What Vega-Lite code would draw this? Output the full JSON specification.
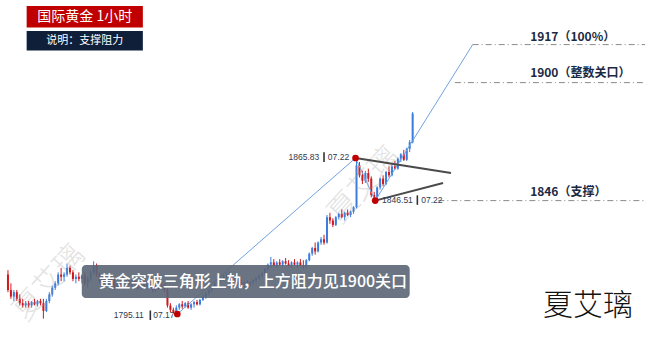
{
"$schema": "https://vega.github.io/schema/vega-lite/v6.json",
"width": 650, "height": 339,
"autosize": {"type": "fit", "contains": "padding"},
"padding": 0,
"background": "white",
"config": {"view": {"stroke": null}},
"datasets": {
"candles": [
{"t":1,"o":1813,"h":1815,"l":1805,"c":1806},
{"t":2,"o":1806,"h":1809,"l":1802,"c":1803},
{"t":3,"o":1803,"h":1806,"l":1801,"c":1805},
{"t":4,"o":1805,"h":1806,"l":1801,"c":1802},
{"t":5,"o":1802,"h":1804,"l":1799,"c":1800},
{"t":6,"o":1800,"h":1802,"l":1798,"c":1799},
{"t":7,"o":1799,"h":1801,"l":1798,"c":1800},
{"t":8,"o":1800,"h":1801,"l":1798,"c":1799},
{"t":9,"o":1799,"h":1801,"l":1798,"c":1800.5},
{"t":10,"o":1800.5,"h":1802,"l":1799,"c":1799.5},
{"t":11,"o":1799.5,"h":1801.5,"l":1798.5,"c":1801},
{"t":12,"o":1801,"h":1802,"l":1799,"c":1800},
{"t":13,"o":1800,"h":1802,"l":1793,"c":1796.5},
{"t":14,"o":1796.5,"h":1802,"l":1796,"c":1801},
{"t":15,"o":1801,"h":1805,"l":1800,"c":1804},
{"t":16,"o":1804,"h":1808,"l":1803,"c":1807},
{"t":17,"o":1807,"h":1810,"l":1806,"c":1809},
{"t":18,"o":1809,"h":1814,"l":1808,"c":1813},
{"t":19,"o":1813,"h":1816,"l":1810,"c":1812},
{"t":20,"o":1812,"h":1814,"l":1810,"c":1813},
{"t":21,"o":1813,"h":1818,"l":1812,"c":1816},
{"t":22,"o":1816,"h":1817,"l":1813,"c":1814},
{"t":23,"o":1814,"h":1815,"l":1810,"c":1811},
{"t":24,"o":1811,"h":1813,"l":1809,"c":1812},
{"t":25,"o":1812,"h":1814,"l":1810,"c":1811},
{"t":26,"o":1811,"h":1813,"l":1809,"c":1812.5},
{"t":27,"o":1812.5,"h":1814,"l":1808,"c":1809},
{"t":28,"o":1809,"h":1812,"l":1807,"c":1811},
{"t":29,"o":1811,"h":1815,"l":1810,"c":1814},
{"t":30,"o":1814,"h":1819,"l":1813,"c":1817},
{"t":31,"o":1817,"h":1818,"l":1812,"c":1813},
{"t":32,"o":1813,"h":1814,"l":1809,"c":1810},
{"t":33,"o":1810,"h":1812,"l":1808,"c":1811},
{"t":34,"o":1811,"h":1813,"l":1809,"c":1810},
{"t":35,"o":1810,"h":1812,"l":1808,"c":1811.5},
{"t":36,"o":1811.5,"h":1813,"l":1809,"c":1810},
{"t":37,"o":1810,"h":1811,"l":1806,"c":1807},
{"t":38,"o":1807,"h":1810,"l":1806,"c":1809},
{"t":39,"o":1809,"h":1811,"l":1807,"c":1808},
{"t":40,"o":1808,"h":1810,"l":1806,"c":1809.5},
{"t":41,"o":1809.5,"h":1812,"l":1808,"c":1811},
{"t":42,"o":1811,"h":1812,"l":1808,"c":1809},
{"t":43,"o":1809,"h":1811,"l":1807,"c":1810},
{"t":44,"o":1810,"h":1812,"l":1808,"c":1809},
{"t":45,"o":1809,"h":1810,"l":1806,"c":1807},
{"t":46,"o":1807,"h":1810,"l":1806,"c":1809},
{"t":47,"o":1809,"h":1811,"l":1807,"c":1808},
{"t":48,"o":1808,"h":1810,"l":1806,"c":1809.5},
{"t":49,"o":1809.5,"h":1811,"l":1807,"c":1808},
{"t":50,"o":1808,"h":1809,"l":1805,"c":1806},
{"t":51,"o":1806,"h":1809,"l":1805,"c":1808},
{"t":52,"o":1808,"h":1810,"l":1806,"c":1807},
{"t":53,"o":1807,"h":1809,"l":1806,"c":1808},
{"t":54,"o":1808,"h":1809,"l":1805,"c":1806},
{"t":55,"o":1806,"h":1807,"l":1798,"c":1799},
{"t":56,"o":1799,"h":1800,"l":1796,"c":1797},
{"t":57,"o":1797,"h":1798,"l":1795.5,"c":1796},
{"t":58,"o":1796,"h":1799,"l":1795.11,"c":1798},
{"t":59,"o":1798,"h":1800,"l":1797,"c":1799.5},
{"t":60,"o":1799.5,"h":1801,"l":1797.5,"c":1798.5},
{"t":61,"o":1798.5,"h":1800.5,"l":1798,"c":1800},
{"t":62,"o":1800,"h":1801,"l":1797.5,"c":1798},
{"t":63,"o":1798,"h":1800,"l":1797,"c":1799.5},
{"t":64,"o":1799.5,"h":1801,"l":1798,"c":1800.5},
{"t":65,"o":1800.5,"h":1801.5,"l":1799,"c":1799.5},
{"t":66,"o":1799.5,"h":1802,"l":1799,"c":1801.5},
{"t":67,"o":1801.5,"h":1804,"l":1801,"c":1803},
{"t":68,"o":1803,"h":1805,"l":1802,"c":1804.5},
{"t":69,"o":1804.5,"h":1806.5,"l":1803.5,"c":1806},
{"t":70,"o":1806,"h":1808,"l":1805,"c":1807.5},
{"t":71,"o":1807.5,"h":1809.5,"l":1806.5,"c":1809},
{"t":72,"o":1809,"h":1811,"l":1808,"c":1810.5},
{"t":73,"o":1810.5,"h":1812,"l":1809,"c":1811},
{"t":74,"o":1811,"h":1813,"l":1810,"c":1812.5},
{"t":75,"o":1812.5,"h":1814,"l":1811,"c":1813},
{"t":76,"o":1813,"h":1814.5,"l":1811,"c":1811.5},
{"t":77,"o":1811.5,"h":1813,"l":1810,"c":1812.5},
{"t":78,"o":1812.5,"h":1813.5,"l":1809,"c":1810},
{"t":79,"o":1810,"h":1811,"l":1808,"c":1809},
{"t":80,"o":1809,"h":1810.5,"l":1807.5,"c":1808.5},
{"t":81,"o":1808.5,"h":1810,"l":1807,"c":1809.5},
{"t":82,"o":1809.5,"h":1810.5,"l":1808,"c":1808.5},
{"t":83,"o":1808.5,"h":1810,"l":1807.5,"c":1809.5},
{"t":84,"o":1809.5,"h":1811,"l":1808.5,"c":1810.5},
{"t":85,"o":1810.5,"h":1812,"l":1809.5,"c":1811.5},
{"t":86,"o":1811.5,"h":1813,"l":1810.5,"c":1812.5},
{"t":87,"o":1812.5,"h":1814,"l":1811.5,"c":1813.5},
{"t":88,"o":1813.5,"h":1816,"l":1812.5,"c":1815.5},
{"t":89,"o":1815.5,"h":1818,"l":1814.5,"c":1817.5},
{"t":90,"o":1817.5,"h":1821,"l":1816,"c":1818.5},
{"t":91,"o":1818.5,"h":1820,"l":1816.5,"c":1817},
{"t":92,"o":1817,"h":1819,"l":1816,"c":1818.5},
{"t":93,"o":1818.5,"h":1820,"l":1817,"c":1817.5},
{"t":94,"o":1817.5,"h":1819.5,"l":1816.5,"c":1819},
{"t":95,"o":1819,"h":1820.5,"l":1817.5,"c":1818},
{"t":96,"o":1818,"h":1819.5,"l":1816.5,"c":1817},
{"t":97,"o":1817,"h":1819,"l":1816,"c":1818.5},
{"t":98,"o":1818.5,"h":1820,"l":1817,"c":1817.5},
{"t":99,"o":1817.5,"h":1819,"l":1816,"c":1818.5},
{"t":100,"o":1818.5,"h":1820,"l":1816.5,"c":1817},
{"t":101,"o":1817,"h":1819.5,"l":1815.5,"c":1816.5},
{"t":102,"o":1816.5,"h":1820,"l":1816,"c":1819.5},
{"t":103,"o":1819.5,"h":1823,"l":1819,"c":1822.5},
{"t":104,"o":1822.5,"h":1825.5,"l":1821.5,"c":1825},
{"t":105,"o":1825,"h":1827.5,"l":1822,"c":1823.5},
{"t":106,"o":1823.5,"h":1828,"l":1823,"c":1827.5},
{"t":107,"o":1827.5,"h":1830,"l":1826.5,"c":1829},
{"t":108,"o":1829,"h":1831,"l":1826.5,"c":1827.5},
{"t":109,"o":1827.5,"h":1840,"l":1827,"c":1839},
{"t":110,"o":1839,"h":1841,"l":1836,"c":1837.5},
{"t":111,"o":1837.5,"h":1838.5,"l":1834.5,"c":1835.5},
{"t":112,"o":1835.5,"h":1839.5,"l":1835,"c":1839},
{"t":113,"o":1839,"h":1841,"l":1838,"c":1840.5},
{"t":114,"o":1840.5,"h":1842.5,"l":1838.5,"c":1839},
{"t":115,"o":1839,"h":1841.5,"l":1837.5,"c":1841},
{"t":116,"o":1841,"h":1842.5,"l":1839.5,"c":1840},
{"t":117,"o":1840,"h":1842,"l":1839,"c":1841.5},
{"t":118,"o":1841.5,"h":1844,"l":1840.5,"c":1843.5},
{"t":119,"o":1843.5,"h":1865.83,"l":1843,"c":1862.5},
{"t":120,"o":1862.5,"h":1864,"l":1857,"c":1858},
{"t":121,"o":1858,"h":1860,"l":1854,"c":1855.5},
{"t":122,"o":1855.5,"h":1860,"l":1854.5,"c":1859},
{"t":123,"o":1859,"h":1861,"l":1855,"c":1856.5},
{"t":124,"o":1856.5,"h":1857.5,"l":1848,"c":1849},
{"t":125,"o":1849,"h":1850.5,"l":1846.51,"c":1848},
{"t":126,"o":1848,"h":1853,"l":1847.5,"c":1852.5},
{"t":127,"o":1852.5,"h":1857,"l":1851.5,"c":1856.5},
{"t":128,"o":1856.5,"h":1858,"l":1853,"c":1854},
{"t":129,"o":1854,"h":1860,"l":1853.5,"c":1859.5},
{"t":130,"o":1859.5,"h":1862,"l":1857,"c":1858},
{"t":131,"o":1858,"h":1863,"l":1857.5,"c":1862},
{"t":132,"o":1862,"h":1864.5,"l":1860.5,"c":1861},
{"t":133,"o":1861,"h":1866,"l":1860.5,"c":1865.5},
{"t":134,"o":1865.5,"h":1868,"l":1864,"c":1867.5},
{"t":135,"o":1867.5,"h":1869.5,"l":1864.5,"c":1865},
{"t":136,"o":1865,"h":1870.5,"l":1864.5,"c":1870},
{"t":137,"o":1870,"h":1874,"l":1868.5,"c":1873},
{"t":138,"o":1873,"h":1886.7,"l":1872.5,"c":1886}
],
"fib": [
{"t":58.33,"p":1795.11,"k":1},
{"t":118.67,"p":1865.83,"k":2},
{"t":125.33,"p":1846.51,"k":3},
{"t":158.33,"p":1917.23,"k":4}
],
"levels": [
{"t":158.33,"t2":216.67,"p":1917.23},
{"t":152.3,"t2":216.67,"p":1900},
{"t":146.7,"t2":216.67,"p":1846.51}
],
"tri": [
{"s":"upper","t":118.67,"p":1865.83},
{"s":"upper","t":151,"p":1859.03},
{"s":"lower","t":125.33,"p":1846.51},
{"s":"lower","t":148.3,"p":1854.49}
],
"dots": [
{"t":58.33,"p":1795.11},
{"t":118.67,"p":1865.83},
{"t":125.33,"p":1846.51}
],
"boxes": [
{"name":"title","t":7.33,"t2":46.67,"p":1934.73,"p2":1925.0,"fill":"#c00000"},
{"name":"note","t":7.33,"t2":46.67,"p":1923.4,"p2":1914.56,"fill":"#0f1f3a"}
],
"boxtext": [
{"text":"国际黄金 1小时","t":27,"p":1929.9,"size":14},
{"text":"说明：支撑阻力","t":27,"p":1919.0,"size":11}
],
"banner": [
{"t":26,"t2":137,"p":1817.32,"p2":1802.36}
],
"bannertext": [
{"text":"黄金突破三角形上轨，上方阻力见1900关口","t":31.7,"p":1809.6}
],
"pricelabels": [
{"text":"1865.83","t":96.0,"p":1866.15},
{"text":"07.22","t":109.3,"p":1866.15},
{"text":"1846.51","t":127.67,"p":1846.79},
{"text":"07.22","t":140.9,"p":1846.79},
{"text":"1795.11","t":36.8,"p":1794.52},
{"text":"07.17","t":50.2,"p":1794.52}
],
"bars": [
{"t":108.0,"p":1868.4,"p2":1864.0},
{"t":139.6,"p":1848.9,"p2":1844.6},
{"t":49.2,"p":1796.7,"p2":1792.4}
],
"levellabels": [
{"text":"1917（100%）","t":177.78,"p":1920.55},
{"text":"1900（整数关口）","t":177.78,"p":1904.48},
{"text":"1846（支撑）","t":177.78,"p":1850.28}
],
"watermarks": [
{"text":"夏艾璃","t":15,"p":1809.2},
{"text":"夏艾璃","t":121.67,"p":1853.6}
],
"signature": [
{"text":"夏艾璃","t":197.33,"p":1798.6}
]
},
"layer": [
{
"data": {"name":"candles"},
"mark": {"type":"rule","strokeWidth":1},
"encoding": {
"x": {"field":"t","type":"quantitative","scale":{"domain":[0,216.667],"nice":false,"zero":false},"axis":null},
"y": {"field":"l","type":"quantitative","scale":{"domain":[1783.78,1937.45],"nice":false,"zero":false},"axis":null},
"y2": {"field":"h"},
"color": {"condition":{"test":"datum.c >= datum.o","value":"#3b7ddd"},"value":"#d0191e"}
}
},
{
"data": {"name":"candles"},
"mark": {"type":"bar","size":2},
"encoding": {
"x": {"field":"t","type":"quantitative","scale":{"domain":[0,216.667],"nice":false,"zero":false},"axis":null},
"y": {"field":"o","type":"quantitative","scale":{"domain":[1783.78,1937.45],"nice":false,"zero":false},"axis":null},
"y2": {"field":"c"},
"color": {"condition":{"test":"datum.c >= datum.o","value":"#3b7ddd"},"value":"#d0191e"}
}
},
{
"data": {"name":"watermarks"},
"mark": {"type":"text","angle":312,"fontSize":30,"font":"Noto Sans CJK SC","fontWeight":300,"color":"#9a9a9a","opacity":0.28,"align":"center","baseline":"middle"},
"encoding": {
"x": {"field":"t","type":"quantitative","scale":{"domain":[0,216.667],"nice":false,"zero":false},"axis":null},
"y": {"field":"p","type":"quantitative","scale":{"domain":[1783.78,1937.45],"nice":false,"zero":false},"axis":null},
"text": {"field":"text"}
}
},
{
"data": {"name":"fib"},
"mark": {"type":"line","strokeWidth":1,"color":"#6fa3e0"},
"encoding": {
"x": {"field":"t","type":"quantitative","scale":{"domain":[0,216.667],"nice":false,"zero":false},"axis":null},
"y": {"field":"p","type":"quantitative","scale":{"domain":[1783.78,1937.45],"nice":false,"zero":false},"axis":null},
"order": {"field":"k"}
}
},
{
"data": {"name":"levels"},
"mark": {"type":"rule","strokeWidth":1,"color":"#8a8a8a","strokeDash":[6,3,1,3]},
"encoding": {
"x": {"field":"t","type":"quantitative","scale":{"domain":[0,216.667],"nice":false,"zero":false},"axis":null},
"x2": {"field":"t2"},
"y": {"field":"p","type":"quantitative","scale":{"domain":[1783.78,1937.45],"nice":false,"zero":false},"axis":null}
}
},
{
"data": {"name":"tri"},
"mark": {"type":"line","strokeWidth":2,"color":"#4a4a4a"},
"encoding": {
"x": {"field":"t","type":"quantitative","scale":{"domain":[0,216.667],"nice":false,"zero":false},"axis":null},
"y": {"field":"p","type":"quantitative","scale":{"domain":[1783.78,1937.45],"nice":false,"zero":false},"axis":null},
"detail": {"field":"s"}
}
},
{
"data": {"name":"pricelabels"},
"mark": {"type":"text","fontSize":8.5,"font":"Liberation Sans","color":"#2f3a4f","align":"left","baseline":"middle"},
"encoding": {
"x": {"field":"t","type":"quantitative","scale":{"domain":[0,216.667],"nice":false,"zero":false},"axis":null},
"y": {"field":"p","type":"quantitative","scale":{"domain":[1783.78,1937.45],"nice":false,"zero":false},"axis":null},
"text": {"field":"text"}
}
},
{
"data": {"name":"bars"},
"mark": {"type":"rule","strokeWidth":1.6,"color":"#333333"},
"encoding": {
"x": {"field":"t","type":"quantitative","scale":{"domain":[0,216.667],"nice":false,"zero":false},"axis":null},
"y": {"field":"p","type":"quantitative","scale":{"domain":[1783.78,1937.45],"nice":false,"zero":false},"axis":null},
"y2": {"field":"p2"}
}
},
{
"data": {"name":"dots"},
"mark": {"type":"point","filled":true,"size":45,"color":"#c00000","opacity":1},
"encoding": {
"x": {"field":"t","type":"quantitative","scale":{"domain":[0,216.667],"nice":false,"zero":false},"axis":null},
"y": {"field":"p","type":"quantitative","scale":{"domain":[1783.78,1937.45],"nice":false,"zero":false},"axis":null}
}
},
{
"data": {"name":"banner"},
"mark": {"type":"rect","cornerRadius":4,"color":"#5b6575","opacity":0.9},
"encoding": {
"x": {"field":"t","type":"quantitative","scale":{"domain":[0,216.667],"nice":false,"zero":false},"axis":null},
"x2": {"field":"t2"},
"y": {"field":"p","type":"quantitative","scale":{"domain":[1783.78,1937.45],"nice":false,"zero":false},"axis":null},
"y2": {"field":"p2"}
}
},
{
"data": {"name":"bannertext"},
"mark": {"type":"text","fontSize":16,"font":"Noto Sans CJK SC","fontWeight":500,"color":"white","align":"left","baseline":"middle"},
"encoding": {
"x": {"field":"t","type":"quantitative","scale":{"domain":[0,216.667],"nice":false,"zero":false},"axis":null},
"y": {"field":"p","type":"quantitative","scale":{"domain":[1783.78,1937.45],"nice":false,"zero":false},"axis":null},
"text": {"field":"text"}
}
},
{
"data": {"name":"boxes"},
"mark": {"type":"rect"},
"encoding": {
"x": {"field":"t","type":"quantitative","scale":{"domain":[0,216.667],"nice":false,"zero":false},"axis":null},
"x2": {"field":"t2"},
"y": {"field":"p","type":"quantitative","scale":{"domain":[1783.78,1937.45],"nice":false,"zero":false},"axis":null},
"y2": {"field":"p2"},
"color": {"field":"fill","type":"nominal","scale":null}
}
},
{
"data": {"name":"boxtext"},
"mark": {"type":"text","font":"Noto Sans CJK SC","color":"white","align":"center","baseline":"middle"},
"encoding": {
"x": {"field":"t","type":"quantitative","scale":{"domain":[0,216.667],"nice":false,"zero":false},"axis":null},
"y": {"field":"p","type":"quantitative","scale":{"domain":[1783.78,1937.45],"nice":false,"zero":false},"axis":null},
"text": {"field":"text"},
"size": {"field":"size","type":"quantitative","scale":null}
}
},
{
"data": {"name":"levellabels"},
"mark": {"type":"text","fontSize":12,"fontWeight":"bold","font":"Noto Sans CJK SC","color":"#1b2a44","align":"left","baseline":"middle"},
"encoding": {
"x": {"field":"t","type":"quantitative","scale":{"domain":[0,216.667],"nice":false,"zero":false},"axis":null},
"y": {"field":"p","type":"quantitative","scale":{"domain":[1783.78,1937.45],"nice":false,"zero":false},"axis":null},
"text": {"field":"text"}
}
},
{
"data": {"name":"signature"},
"mark": {"type":"text","fontSize":30,"font":"Noto Sans CJK SC","fontWeight":200,"color":"#111111","align":"center","baseline":"middle"},
"encoding": {
"x": {"field":"t","type":"quantitative","scale":{"domain":[0,216.667],"nice":false,"zero":false},"axis":null},
"y": {"field":"p","type":"quantitative","scale":{"domain":[1783.78,1937.45],"nice":false,"zero":false},"axis":null},
"text": {"field":"text"}
}
}
]
}
